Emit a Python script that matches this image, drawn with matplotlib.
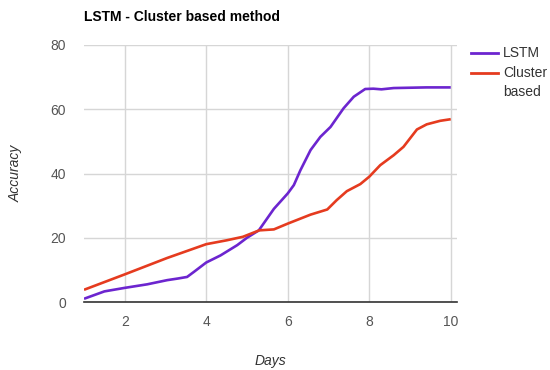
import matplotlib
matplotlib.use("Agg")
import matplotlib.pyplot as plt
from matplotlib.lines import Line2D

plt.rcParams['font.family'] = ['Liberation Sans', 'DejaVu Sans']

lstm_x = [1.0, 1.5, 2.0, 2.55, 3.04, 3.3, 3.53, 3.7, 4.0, 4.35, 4.76, 5.0, 5.29, 5.66,
          6.0, 6.15, 6.31, 6.56, 6.8, 7.05, 7.37, 7.62, 7.9, 8.1, 8.3, 8.6, 9.4, 10.0]
lstm_y = [1.0, 3.3, 4.4, 5.5, 6.8, 7.3, 7.8, 9.4, 12.3, 14.5, 17.7, 20.0, 22.3, 29.0,
          33.8, 36.4, 41.0, 47.3, 51.4, 54.5, 60.3, 63.9, 66.3, 66.4, 66.2, 66.6, 66.8, 66.8]

cluster_x = [1.0, 2.0, 3.04, 4.0, 4.5, 4.9, 5.3, 5.66, 6.0, 6.56, 6.97, 7.2, 7.45, 7.78,
             8.0, 8.27, 8.6, 8.84, 9.17, 9.41, 9.74, 10.0]
cluster_y = [3.8, 8.6, 13.7, 18.0, 19.2, 20.3, 22.3, 22.6, 24.4, 27.2, 28.8, 31.7, 34.5, 36.7,
             39.0, 42.6, 45.7, 48.3, 53.7, 55.3, 56.4, 56.9]

x_ticks = [2, 4, 6, 8, 10]
y_ticks = [0, 20, 40, 60, 80]

W, H = 550, 370
fig = plt.figure(figsize=(5.5, 3.7), dpi=100)
ax = fig.add_axes([84 / W, (H - 302) / H, (457 - 84) / W, (302 - 45) / H])

purple = '#6c25cf'
red = '#e53b1f'
ax.plot(lstm_x, lstm_y, color=purple, lw=1.9, solid_capstyle='butt', solid_joinstyle='round', zorder=3)
ax.plot(cluster_x, cluster_y, color=red, lw=1.9, solid_capstyle='butt', solid_joinstyle='round', zorder=3)

ax.set_xlim(1, 1 + (457 - 84) / 40.75)
ax.set_ylim(0, 80)
ax.set_xticks(x_ticks)
ax.set_yticks(y_ticks)
ax.grid(True, color='#d6d6d6', lw=1)
ax.set_axisbelow(True)
for s in ['top', 'right', 'left']:
    ax.spines[s].set_visible(False)
ax.spines['bottom'].set_color('#333333')
ax.spines['bottom'].set_linewidth(1.2)
ax.tick_params(length=0, labelsize=10, colors='#555555')
ax.tick_params(axis='y', pad=13)
ax.tick_params(axis='x', pad=9)

ax.set_xlabel('Days', fontstyle='italic', fontsize=10, color='#333333', labelpad=18)
ax.set_ylabel('Accuracy', fontstyle='italic', fontsize=10, color='#333333', labelpad=20)

fig.text(84 / W, 1 - 17 / H, 'LSTM - Cluster based method', fontsize=10, fontweight='bold',
         color='#000000', va='center', ha='left')

# legend
for yy, col, lab in [(53, purple, 'LSTM'), (73, red, 'Cluster\nbased')]:
    fig.add_artist(Line2D([471 / W, 498 / W], [1 - yy / H, 1 - yy / H], color=col, lw=2,
                          transform=fig.transFigure))
    fig.text(503 / W, 1 - (yy - 7) / H, lab, fontsize=10, color='#333333', va='top', ha='left',
             linespacing=1.45)

fig.savefig('out.png', dpi=100)
